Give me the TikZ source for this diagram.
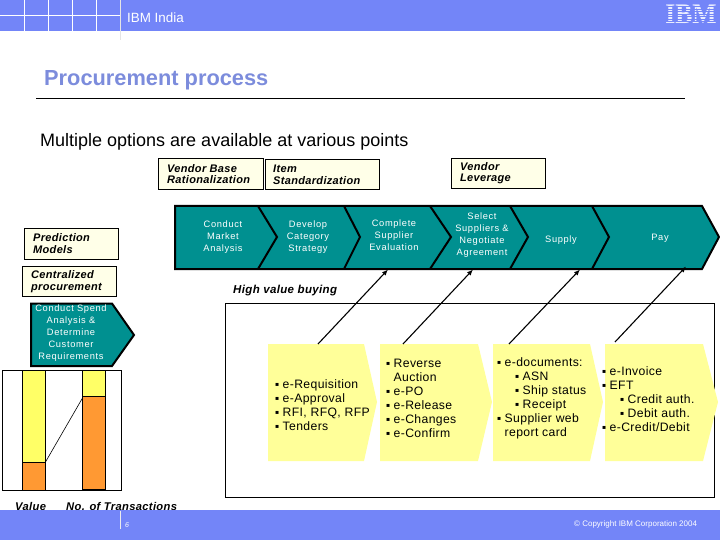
\documentclass[tikz,border=0pt]{standalone}
\usepackage{fontspec}
\setmainfont{Liberation Sans}
\newfontfamily\symf{DejaVu Sans}
\newfontfamily\spc[LetterSpace=7]{Liberation Sans}
\newfontfamily\spb[LetterSpace=3,BoldFont={Liberation Sans Bold},ItalicFont={Liberation Sans Italic}]{Liberation Sans}
\newfontfamily\ibmf{Liberation Serif}
\usetikzlibrary{arrows.meta}
\definecolor{hdr}{HTML}{7385F8}
\definecolor{ttl}{HTML}{7C8CDC}
\definecolor{teal2}{HTML}{009090}
\definecolor{ylw}{HTML}{FFFF99}
\definecolor{boxy}{HTML}{FFFFE8}
\definecolor{org}{HTML}{FF9933}
\definecolor{barY}{HTML}{FFFF66}
\newcommand\bu[1]{\hspace*{#1pt}\makebox[7.5pt][l]{\raisebox{1.5pt}{\fontsize{6}{6}\symf ▪}}}
\tikzset{
  lab/.style={inner sep=0pt,anchor=west,align=left,font=\fontsize{11}{12}\selectfont\spb\bfseries\itshape},
  labn/.style={lab,font=\fontsize{11}{11}\selectfont\spb\bfseries\itshape},
  optbox/.style={draw=black,fill=boxy,line width=0.8pt},
  chev/.style={fill=teal2,draw=black,line width=2pt,line join=miter},
  ctext/.style={inner sep=0pt,text=white,align=center,font=\fontsize{9.3}{12}\selectfont\spc},
  ypent/.style={fill=ylw},
  ytext/.style={inner sep=0pt,anchor=west,align=left,font=\fontsize{12.2}{14}\selectfont\spb},
  conn/.style={-{Latex[length=6pt,width=5pt]},line width=1.1pt},
  grid/.style={white,line width=0.6pt}
}
\begin{document}
\begin{tikzpicture}[x=1pt,y=-1pt]
\useasboundingbox (0,0) rectangle (720,540);
% header
\fill[hdr] (0,0) rectangle (720,31);
\foreach \xx in {24,48,72,96} \draw[grid] (\xx,0) -- (\xx,31);
\draw[grid] (0,15.5) -- (120,15.5);
\draw[white!80!gray,line width=0.6pt] (120,0) -- (120,40);
\node[inner sep=0pt,anchor=west,text=white,font=\fontsize{13.4}{14}\selectfont] (hd) at (127,18) {IBM India};
\node[inner sep=0pt,text=white!85!hdr,font=\fontsize{27}{27}\selectfont\ibmf\bfseries,xscale=0.95,yscale=1.05] (ibm) at (691,14) {IBM};
\foreach \yy in {6.5,9,11.5,14,16.5,19,21.5} \draw[hdr,line width=0.7pt] (660,\yy) -- (720,\yy);
% title
\node[inner sep=0pt,anchor=west,text=ttl,font=\fontsize{21.8}{23}\selectfont\bfseries] (title) at (44,80.5) {Procurement process};
\coordinate (ruleL) at (36,98.5);
\coordinate (ruleR) at (685,98.5);
\draw[line width=0.8pt] (ruleL) -- (ruleR);
\node[inner sep=0pt,anchor=west,font=\fontsize{18}{20}\selectfont] (sub) at (40,141.5) {Multiple options are available at various points};
% option boxes
\draw[optbox] (158,158.5) rectangle (263.5,189.5);
\node[labn] (vb) at (167,174) {Vendor Base\\Rationalization};
\draw[optbox] (265,159.5) rectangle (379.5,189.5);
\node[lab] (is) at (273,174.5) {Item\\Standardization};
\draw[optbox] (451.5,158.5) rectangle (545.5,188.5);
\node[labn] (vl) at (460,173.5) {Vendor\\Leverage};
\draw[optbox] (24.5,228.5) rectangle (118.5,259.5);
\node[lab] (pm) at (33,243.5) {Prediction\\Models};
\draw[optbox] (22.5,266.5) rectangle (116.5,296.5);
\node[lab] (cp) at (31,281.5) {Centralized\\procurement};
% value chain band
\draw[chev] (175,206) -- (702,206) -- (719,237) -- (702,269) -- (175,269) -- cycle;
\draw[black,line width=2pt]
  (258,206) -- (277,237) -- (258,269)
  (344,206) -- (360,237) -- (344,269)
  (430,206) -- (451,237) -- (430,269)
  (510,206) -- (528,237) -- (510,269)
  (592,206) -- (609,237) -- (592,269);
\node[ctext] (c1) at (223,237.5) {Conduct\\Market\\Analysis};
\node[ctext] (c2) at (308,237.5) {Develop\\Category\\Strategy};
\node[ctext] (c3) at (394,235.5) {Complete\\Supplier\\Evaluation};
\node[ctext] (c4) at (482,235) {Select\\Suppliers \&\\Negotiate\\Agreement};
\node[ctext] (c5) at (561,240) {Supply};
\node[ctext] (c6) at (660,238) {Pay};
\coordinate (t1) at (388,269.5);
\coordinate (t2) at (473,269.5);
\coordinate (t3) at (580,269.5);
\coordinate (t4) at (686,266.5);
% high value
\node[inner sep=0pt,anchor=west,font=\fontsize{11.5}{13}\selectfont\spb\bfseries\itshape] (hv) at (233,290.5) {High value buying};
% big box
\draw[line width=0.8pt] (225.5,303.5) rectangle (714.5,497.5);
% yellow pentagons
\fill[ypent] (268,344) -- (364,344) -- (377,402) -- (364,461) -- (268,461) -- cycle;
\fill[ypent] (380,344) -- (478,344) -- (492,402) -- (478,461) -- (380,461) -- cycle;
\fill[ypent] (493,344) -- (590,344) -- (603,402) -- (590,461) -- (493,461) -- cycle;
\fill[ypent] (605,344) -- (703,344) -- (718,402) -- (703,461) -- (605,461) -- cycle;
\coordinate (s1) at (318,344);
\coordinate (s2) at (403,344);
\coordinate (s3) at (509,344);
\coordinate (s4) at (615,342);
\foreach \i in {1,2,3,4} \draw[conn] (s\i) -- (t\i);
% yellow texts
\node[ytext] (y1) at (275,405) {\bu{0}e-Requisition\\\bu{0}e-Approval\\\bu{0}RFI, RFQ, RFP\\\bu{0}Tenders};
\node[ytext] (y2) at (386,398) {\bu{0}Reverse\\\hspace*{7.5pt}Auction\\\bu{0}e-PO\\\bu{0}e-Release\\\bu{0}e-Changes\\\bu{0}e-Confirm};
\node[ytext] (y3) at (497,398) {\bu{0}e-documents:\\\bu{18}ASN\\\bu{18}Ship status\\\bu{18}Receipt\\\bu{0}Supplier web\\\hspace*{7.5pt}report card};
\node[ytext] (y4) at (602,399) {\bu{0}e-Invoice\\\bu{0}EFT\\\bu{18}Credit auth.\\\bu{18}Debit auth.\\\bu{0}e-Credit/Debit};
% spend chevron
\draw[chev] (31,303.5) -- (112,303.5) -- (134,335) -- (112,366) -- (31,366) -- cycle;
\node[ctext] (sp) at (71,333.5) {Conduct Spend\\Analysis \&\\Determine\\Customer\\Requirements};
% chart
\draw[line width=0.8pt] (2.5,370.5) rectangle (121.5,490);
\draw[fill=barY,line width=0.7pt] (22.5,370.5) rectangle (45.5,462);
\draw[fill=org,line width=0.7pt] (22.5,462) rectangle (45.5,490);
\draw[fill=barY,line width=0.7pt] (82.5,370.5) rectangle (105.5,396);
\draw[fill=org,line width=0.7pt] (82.5,396) rectangle (105.5,489);
\coordinate (l1) at (45.5,462);
\coordinate (l2) at (82.5,398);
\draw[line width=0.6pt] (l1) -- (l2);
\node[inner sep=0pt,anchor=west,font=\fontsize{11.2}{12}\selectfont\spb\bfseries\itshape] (val) at (15,506.5) {Value};
\node[inner sep=0pt,anchor=west,font=\fontsize{11.2}{12}\selectfont\spb\bfseries\itshape] (not) at (66,506.5) {No. of Transactions};
% footer
\fill[hdr] (0,510) rectangle (720,540);
\draw[white!85!gray,line width=0.6pt] (120.5,511) -- (120.5,529);
\node[inner sep=0pt,text=white,font=\fontsize{7}{8}\selectfont\itshape] (pg) at (127,525.5) {6};
\node[inner sep=0pt,anchor=west,text=white,font=\fontsize{8}{9}\selectfont] (cr) at (574,524) {© Copyright IBM Corporation 2004};
\end{tikzpicture}
\end{document}
